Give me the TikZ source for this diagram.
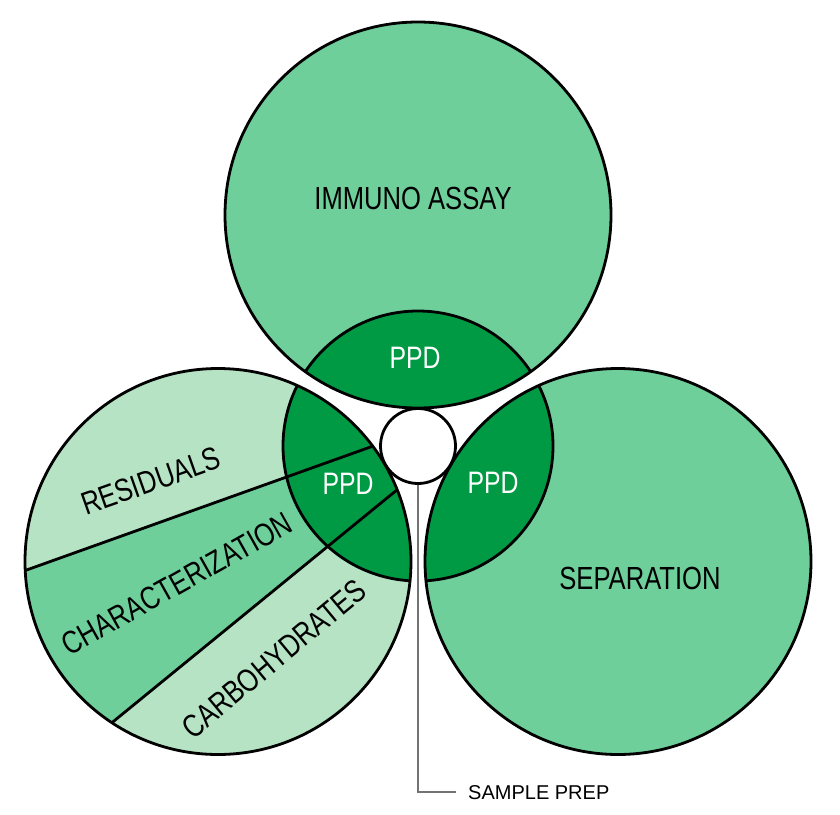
\documentclass[tikz,border=0pt]{standalone}
\usepackage{fontspec}
\setmainfont{Liberation Sans}
\newfontfamily\narrowfont[FakeStretch=0.8]{Liberation Sans}
\definecolor{midgreen}{HTML}{6FCF9B}
\definecolor{lightgreen}{HTML}{B6E3C4}
\definecolor{darkgreen}{HTML}{009A44}
\begin{document}
\begin{tikzpicture}[x=1pt,y=-1pt,
  outline/.style={draw=black,line width=2.8pt},
  biglabel/.style={font=\narrowfont\fontsize{32}{36}\selectfont, text=black, inner sep=0pt},
  ppdlabel/.style={font=\narrowfont\fontsize{31}{36}\selectfont, text=white, inner sep=0pt},
  hubstyle/.style={circle, draw=black, line width=2.8pt, fill=white, minimum size=75pt, inner sep=0pt},
  leader/.style={draw=black!55, line width=1.3pt}
]
\useasboundingbox (0,0) rectangle (840,814);
\fill[white] (0,0) rectangle (840,814);

\coordinate (ctop) at (418,215);
\coordinate (cleft) at (218,561.5);
\coordinate (cright) at (618,561.5);
\coordinate (chub) at (418,446);

% top circle
\fill[midgreen] (ctop) circle (193pt);
\begin{scope}
  \clip (ctop) circle (193pt);
  \fill[darkgreen] (chub) circle (135pt);
  \draw[outline] (chub) circle (135pt);
\end{scope}
\draw[outline] (ctop) circle (193pt);

% right circle
\fill[midgreen] (cright) circle (193pt);
\begin{scope}
  \clip (cright) circle (193pt);
  \fill[darkgreen] (chub) circle (135pt);
  \draw[outline] (chub) circle (135pt);
\end{scope}
\draw[outline] (cright) circle (193pt);

% left circle with segments
\fill[lightgreen] (cleft) circle (193pt);
\begin{scope}
  \clip (cleft) circle (193pt);
  \fill[midgreen] (-7,582) -- (404,435) -- (436,458) -- (76,752) -- cycle;
  \fill[darkgreen] (chub) circle (135pt);
  \draw[outline] (chub) circle (135pt);
  \draw[outline] (-7,582) -- (404,435);
  \draw[outline] (76,752) -- (436,458);
\end{scope}
\draw[outline] (cleft) circle (193pt);

% hub
\node[hubstyle] (hub) at (chub) {};
\coordinate (lend) at (456,792);
\draw[leader] (hub.south) |- (lend);

% labels
\node[biglabel] (immuno) at (413,198) {IMMUNO ASSAY};
\node[ppdlabel] (ppdtop) at (415,358) {PPD};
\node[ppdlabel] (ppdleft) at (348,484) {PPD};
\node[ppdlabel] (ppdright) at (493,483) {PPD};
\node[biglabel] (sep) at (640,578) {SEPARATION};
\node[biglabel, rotate=19.5] (resid) at (151,481) {RESIDUALS};
\node[biglabel, rotate=29.3] (charac) at (177,584) {CHARACTERIZATION};
\node[biglabel, rotate=39.7] (carbo) at (274,659) {CARBOHYDRATES};
\node[font=\fontsize{20}{24}\selectfont, anchor=west, inner sep=0pt] (prep) at (468,793) {SAMPLE PREP};
\end{tikzpicture}
\end{document}
